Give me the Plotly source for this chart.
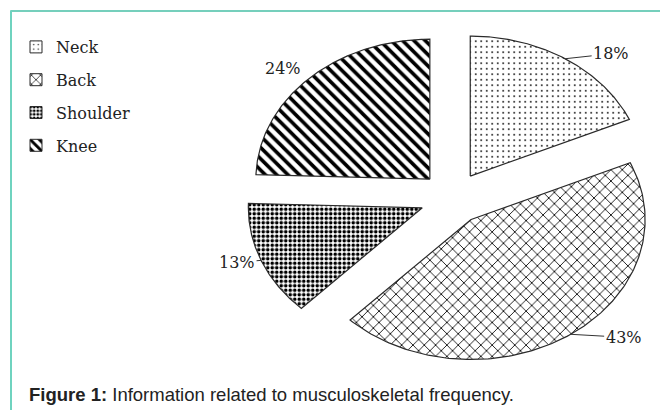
import numpy as np
import plotly.graph_objects as go

# ---- data -------------------------------------------------------------
regions = ["Neck", "Back", "Shoulder", "Knee"]
percent = [18, 43, 13, 24]
caption = "<b>Figure 1:</b> Information related to musculoskeletal frequency."

# ---- styles -------------------------------------------------------------
W, H = 660, 410
RX, RY = 174, 140          # pixel length of one radius unit (x / y)
CX, CY = 452.5, 198        # pixel position of the pie centre
PULL = 0.187               # explode distance, in radius units
SERIF = "DejaVu Serif"
SANS = "Liberation Sans"
EDGE = "#2a2a2a"
TEAL = "#47bfa6"

patterns = {
    "Neck": dict(shape=".", size=5.5, solidity=0.08),
    "Back": dict(shape="x", size=8, solidity=0.2),
    "Shoulder": dict(shape=".", size=4.5, solidity=0.5),
    "Knee": dict(shape="\\", size=8, solidity=0.45),
}
# pixel offset of each percentage label from its slice's arc midpoint
label_offset = {
    "Neck": (46, -5),
    "Back": (53, 3),
    "Shoulder": (-24, 2),
    "Knee": (-26, -10),
}
leader_visible = {"Neck": True, "Back": True, "Shoulder": True, "Knee": False}

fig = go.Figure()

total = float(sum(percent))
bounds = np.concatenate([[0.0], np.cumsum(percent)]) / total * 2 * np.pi

annotations = []
for i, name in enumerate(regions):
    t0, t1 = bounds[i], bounds[i + 1]
    mid = 0.5 * (t0 + t1)
    ox, oy = PULL * np.sin(mid), PULL * np.cos(mid)
    t = np.linspace(t0, t1, 160)
    xs = np.concatenate([[ox], ox + np.sin(t), [ox]])
    ys = np.concatenate([[oy], oy + np.cos(t), [oy]])
    pat = dict(fgcolor="black", bgcolor="white", fillmode="replace", **patterns[name])

    # the exploded slice
    fig.add_trace(go.Scatter(
        x=xs, y=ys, mode="lines", fill="toself", fillcolor="white",
        fillpattern=pat, line=dict(color=EDGE, width=1.2),
        legendgroup=name, showlegend=False, hoverinfo="skip",
    ))
    # legend entry with a square swatch
    fig.add_trace(go.Bar(
        x=[None], y=[None], name=name, legendgroup=name,
        marker=dict(color="white", line=dict(color=EDGE, width=1),
                    pattern=pat),
    ))

    dx, dy = label_offset[name]
    annotations.append(dict(
        x=ox + np.sin(mid), y=oy + np.cos(mid), xref="x", yref="y",
        text=f"{percent[i]}%", showarrow=True, arrowhead=0,
        arrowwidth=1, standoff=0, startstandoff=0,
        arrowcolor="#333333" if leader_visible[name] else "rgba(0,0,0,0)",
        ax=dx, ay=dy, axref="pixel", ayref="pixel",
        font=dict(family=SERIF, size=16, color="#222222"),
    ))

annotations.append(dict(
    x=27 / W, y=1 - 394 / H, xref="paper", yref="paper",
    xanchor="left", yanchor="middle", showarrow=False, text=caption,
    font=dict(family=SANS, size=18.5, color="#222222"),
))

shapes = [
    dict(type="line", xref="paper", yref="paper",
         x0=10.5 / W, x1=1, y0=1 - 11 / H, y1=1 - 11 / H,
         line=dict(color=TEAL, width=1.5)),
    dict(type="line", xref="paper", yref="paper",
         x0=11 / W, x1=11 / W, y0=1 - 10.5 / H, y1=0,
         line=dict(color="#6fd3bf", width=2)),
]

fig.update_layout(
    width=W, height=H,
    margin=dict(l=0, r=0, t=0, b=0),
    paper_bgcolor="white", plot_bgcolor="white",
    xaxis=dict(range=[-CX / RX, (W - CX) / RX], visible=False, fixedrange=True),
    yaxis=dict(range=[-(H - CY) / RY, CY / RY], visible=False, fixedrange=True),
    showlegend=True,
    legend=dict(x=16 / W, y=1 - 30 / H, xanchor="left", yanchor="top",
                font=dict(family=SERIF, size=16, color="#222222"),
                tracegroupgap=9, itemwidth=30, bgcolor="rgba(0,0,0,0)"),
    annotations=annotations,
    shapes=shapes,
)

fig.write_html("out.html")
